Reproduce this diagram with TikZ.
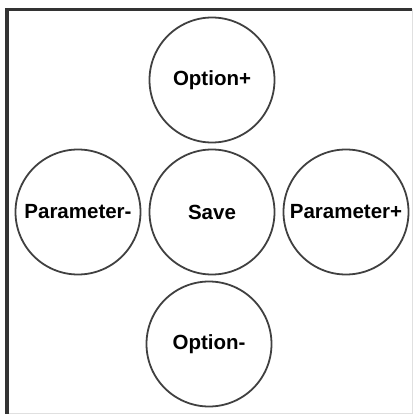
\documentclass[tikz,border=0pt]{standalone}
\usepackage{fontspec}
\setmainfont{Liberation Sans}
\usepackage{tikz}

\begin{document}
\begin{tikzpicture}[x=1pt, y=-1pt, every node/.style={font=\fontsize{20.5}{24}\selectfont\bfseries},
	taste/.style={circle, draw=black!75, line width=1.8pt, minimum size=125pt, inner sep=0pt}]
		\useasboundingbox (0,0) rectangle (413,414);
		%Rahmen
		\draw[black!12, line width=1.2pt] (7,9.5) -- (412.4,9.5) -- (412.4,413.4) -- (7,413.4);
		\draw[black!80, line width=3.2pt] (7,414) -- (7,9.5) -- (412.4,9.5);
		
		%Tasten
		\node[taste] (save) at (212,212) {Save};
		\node[taste] (optplus) at (212,80) {Option+};
		\node[taste] (optminus) at (209,344) {Option-};
		\node[taste] (parminus) at (78,212) {Parameter-};
		\node[taste] (parplus) at (346,212) {Parameter+};
	\end{tikzpicture}
\end{document}
